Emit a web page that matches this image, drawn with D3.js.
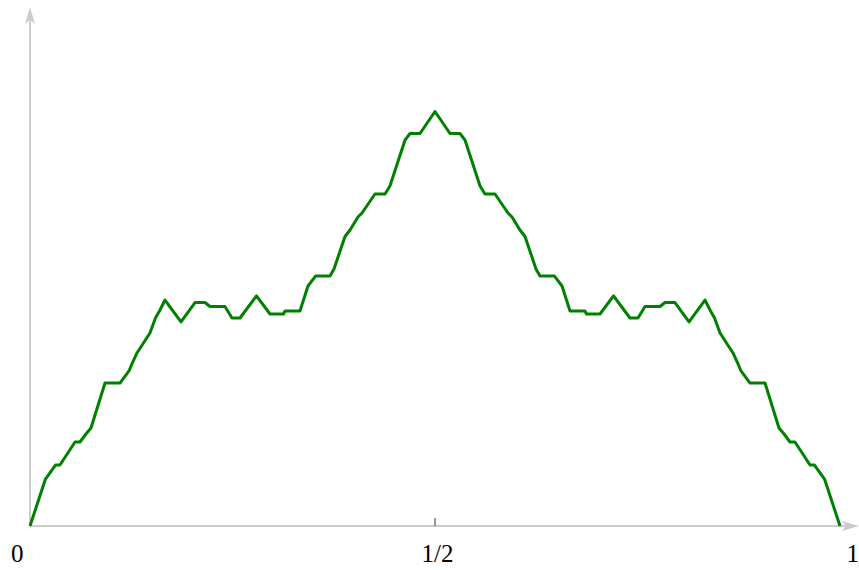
<!DOCTYPE html>
<html>
<head>
<meta charset="utf-8">
<script src="https://cdn.jsdelivr.net/npm/d3@7"></script>
<style>
  html, body { margin: 0; padding: 0; background: #fff; }
  svg { display: block; }
</style>
</head>
<body>
<svg id="chart" width="859" height="570"></svg>
<script>
// Curve vertices (x in [0,1], y in the same units as x)
const xs = [
  0, 0.0191, 0.0315, 0.0370, 0.0556, 0.0617, 0.0691, 0.0753, 0.0926, 0.1111,
  0.1222, 0.1253, 0.1321, 0.1481, 0.1549, 0.1605, 0.1667, 0.1864, 0.2037, 0.2160,
  0.2222, 0.2407, 0.2494, 0.2593, 0.2796, 0.2963, 0.3130, 0.3148, 0.3333, 0.3432,
  0.3525, 0.3704, 0.3753, 0.3889, 0.3951, 0.4049, 0.4099, 0.4259, 0.4383, 0.4444,
  0.4630, 0.4691, 0.4815, 0.5000,
  0.5185, 0.5309, 0.5370, 0.5556, 0.5617, 0.5741, 0.5901, 0.5951, 0.6049, 0.6111,
  0.6247, 0.6296, 0.6475, 0.6568, 0.6667, 0.6852, 0.6870, 0.7037, 0.7204, 0.7407,
  0.7506, 0.7593, 0.7778, 0.7840, 0.7963, 0.8136, 0.8333, 0.8395, 0.8451, 0.8519,
  0.8679, 0.8747, 0.8778, 0.8889, 0.9074, 0.9247, 0.9309, 0.9383, 0.9444, 0.9630,
  0.9685, 0.9809, 1
];
const ys = [
  0, 0.0580, 0.0753, 0.0753, 0.1037, 0.1037, 0.1136, 0.1210, 0.1765, 0.1765,
  0.1914, 0.1988, 0.2136, 0.2383, 0.2568, 0.2667, 0.2790, 0.2519, 0.2759, 0.2759,
  0.2710, 0.2710, 0.2568, 0.2568, 0.2840, 0.2617, 0.2617, 0.2654, 0.2654, 0.2963,
  0.3086, 0.3086, 0.3173, 0.3574, 0.3654, 0.3815, 0.3864, 0.4099, 0.4099, 0.4198,
  0.4765, 0.4846, 0.4846, 0.5117,
  0.4846, 0.4846, 0.4765, 0.4198, 0.4099, 0.4099, 0.3864, 0.3815, 0.3654, 0.3574,
  0.3173, 0.3086, 0.3086, 0.2963, 0.2654, 0.2654, 0.2617, 0.2617, 0.2840, 0.2568,
  0.2568, 0.2710, 0.2710, 0.2759, 0.2759, 0.2519, 0.2790, 0.2667, 0.2568, 0.2383,
  0.2136, 0.1988, 0.1914, 0.1765, 0.1765, 0.1210, 0.1136, 0.1037, 0.1037, 0.0753,
  0.0753, 0.0580, 0
];
const tickValues = [0, 0.5, 1];
const tickLabels = ["0", "1/2", "1"];

const svg = d3.select("#chart");
const x = d3.scaleLinear().domain([0, 1]).range([30, 840]);
const y = d3.scaleLinear().domain([0, 0.6]).range([526, 40]);

const axisColor = "#cccccc";

// y axis line with arrowhead
svg.append("line")
  .attr("x1", x(0)).attr("y1", y(0))
  .attr("x2", x(0)).attr("y2", 14)
  .attr("stroke", axisColor).attr("stroke-width", 2);
svg.append("path")
  .attr("d", `M${x(0)},7 L${x(0) + 5},24 L${x(0)},20 L${x(0) - 5},24 Z`)
  .attr("fill", axisColor);

// x axis line with arrowhead
svg.append("line")
  .attr("x1", x(0)).attr("y1", y(0))
  .attr("x2", 852).attr("y2", y(0))
  .attr("stroke", axisColor).attr("stroke-width", 2);
svg.append("path")
  .attr("d", `M859,${y(0)} L842,${y(0) - 5} L846,${y(0)} L842,${y(0) + 5} Z`)
  .attr("fill", axisColor);

// tick labels via a bottom axis
const axis = d3.axisBottom(x)
  .tickValues(tickValues)
  .tickSize(0)
  .tickPadding(18)
  .tickFormat((d, i) => tickLabels[i]);
const gAxis = svg.append("g")
  .attr("transform", `translate(0,${y(0)})`)
  .call(axis);
gAxis.select(".domain").remove();
gAxis.selectAll("text")
  .attr("font-family", "'Liberation Serif', 'DejaVu Serif', serif")
  .attr("font-size", 25)
  .attr("fill", "#000")
  .attr("text-anchor", d => d === 0 ? "end" : d === 1 ? "start" : "middle")
  .attr("dx", d => d === 0 ? -7 : d === 1 ? 6 : 2);

// tick mark at 1/2
svg.append("line")
  .attr("x1", x(0.5)).attr("x2", x(0.5))
  .attr("y1", y(0) - 8).attr("y2", y(0))
  .attr("stroke", "#777").attr("stroke-width", 1.5);

// the curve
const pts = xs.map((v, i) => [v, ys[i]]);
svg.append("path")
  .datum(pts)
  .attr("fill", "none")
  .attr("stroke", "#008000")
  .attr("stroke-width", 3)
  .attr("stroke-linejoin", "round")
  .attr("d", d3.line().x(d => x(d[0])).y(d => y(d[1])));
</script>
</body>
</html>
